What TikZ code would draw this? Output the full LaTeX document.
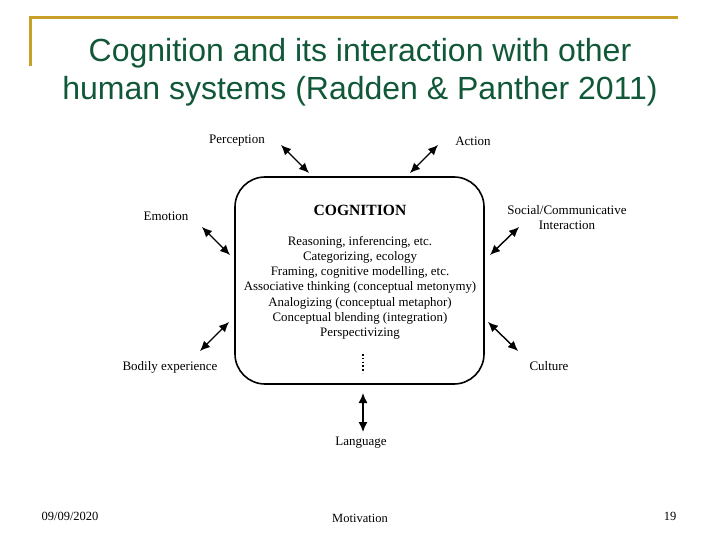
\documentclass[tikz,border=0pt]{standalone}
\usepackage{fontspec}
\setmainfont{Liberation Serif}
\newfontfamily\titlefont{Liberation Sans}
\usetikzlibrary{positioning, calc, arrows.meta}

\definecolor{slidegold}{RGB}{200,160,40}
\definecolor{slidegreen}{RGB}{16,88,56}

\begin{document}
\begin{tikzpicture}[
    x=1pt, y=-1pt,
    title/.style={
        font=\titlefont\fontsize{32}{38}\selectfont,
        text=slidegreen,
        align=center,
    },
    label/.style={
        font=\fontsize{13}{15}\selectfont,
        align=center,
        inner sep=0pt,
    },
    footer/.style={
        font=\fontsize{12.5}{14}\selectfont,
        inner sep=0pt,
    },
    cogbox/.style={
        draw,
        line width=1.6pt,
        rounded corners=30pt,
        minimum width=249pt,
        minimum height=207pt,
    },
    arrow/.style={
        {Latex[length=10pt,width=9pt]}-{Latex[length=10pt,width=9pt]},
        line width=1.4pt,
    },
]
    \useasboundingbox (0,0) rectangle (720,540);

    % slide frame and title
    \draw[slidegold, line width=3pt] (30,66) -- (30,18) -- (678,18);
    \node[title] (head) at (360,72) {Cognition and its interaction with other\\human systems (Radden \& Panther 2011)};

    % central box
    \node[cogbox] (cog) at (359.5,280.5) {};
    \node[font=\bfseries\fontsize{15.6}{18}\selectfont, inner sep=0pt] (cogname) at (360,210) {COGNITION};
    \node[label, font=\fontsize{12.9}{15.2}\selectfont, anchor=north] (items) at (360,236) {Reasoning, inferencing, etc.\\Categorizing, ecology\\Framing, cognitive modelling, etc.\\Associative thinking (conceptual metonymy)\\Analogizing (conceptual metaphor)\\Conceptual blending (integration)\\Perspectivizing};
    \draw[line width=1.6pt, dash pattern=on 1.6pt off 2.2pt] (363,354) -- (363,373);

    % surrounding systems
    \node[label] (percep) at (237,141) {Perception};
    \node[label] (action) at (473,141) {Action};
    \node[label] (emotion) at (166,216) {Emotion};
    \node[label] (social) at (567,218) {Social/Communicative\\Interaction};
    \node[label] (bodily) at (170,367) {Bodily experience};
    \node[label] (culture) at (549,366) {Culture};
    \node[label] (lang) at (361,443) {Language};

    % arrow ends
    \coordinate (percep_a) at (281,145);
    \coordinate (percep_b) at (309,173);
    \coordinate (action_a) at (438,145);
    \coordinate (action_b) at (410,173);
    \coordinate (emotion_a) at (202,227);
    \coordinate (emotion_b) at (230,255);
    \coordinate (social_a) at (519,227);
    \coordinate (social_b) at (490,255);
    \coordinate (bodily_a) at (200,351);
    \coordinate (bodily_b) at (229,322);
    \coordinate (culture_a) at (518,351);
    \coordinate (culture_b) at (488,322);
    \coordinate (lang_a) at (363,432);
    \coordinate (lang_b) at (363,393);

    % Draw arrows
    \draw[arrow] (percep_a) -- (percep_b);
    \draw[arrow] (action_a) -- (action_b);
    \draw[arrow] (emotion_a) -- (emotion_b);
    \draw[arrow] (social_a) -- (social_b);
    \draw[arrow] (bodily_a) -- (bodily_b);
    \draw[arrow] (culture_a) -- (culture_b);
    \draw[arrow] (lang_a) -- (lang_b);

    % footer
    \node[footer] (date) at (70,516) {09/09/2020};
    \node[footer] (topic) at (360,518) {Motivation};
    \node[footer] (page) at (670,516) {19};
\end{tikzpicture}
\end{document}
